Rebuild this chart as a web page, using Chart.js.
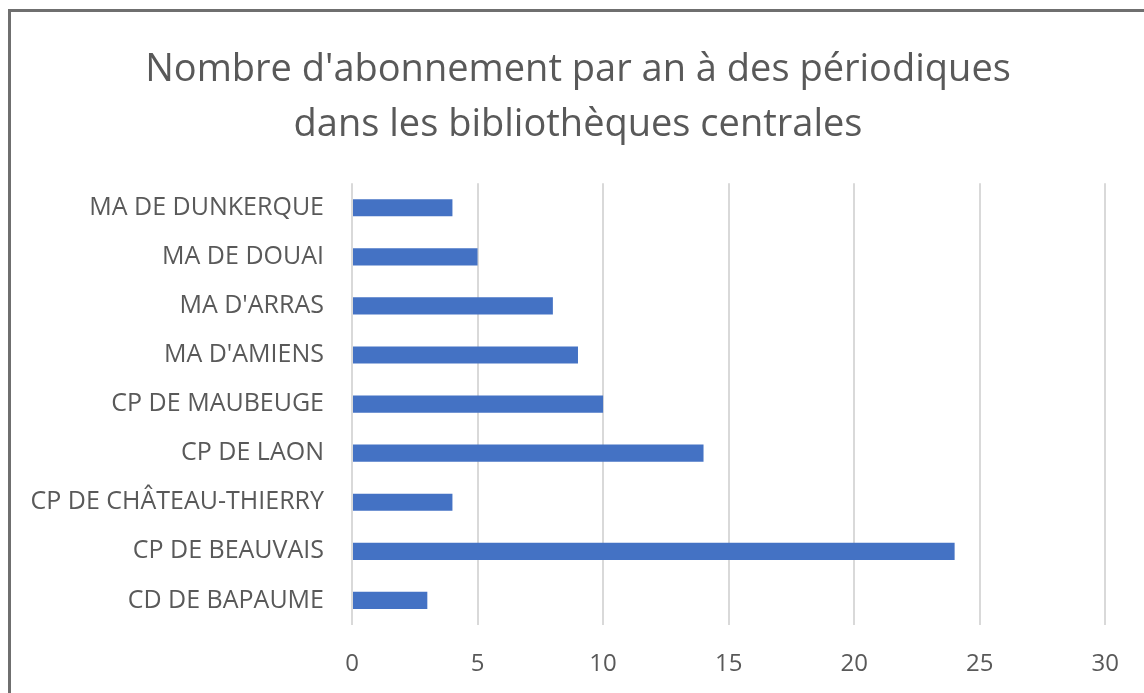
<!DOCTYPE html>
<html>
<head>
<meta charset="utf-8">
<script src="https://cdn.jsdelivr.net/npm/chart.js@4"></script>
<style>
  html, body { margin: 0; padding: 0; background: #fff; overflow: hidden; }
  #frame {
    position: absolute; left: 8px; top: 9px;
    width: 2000px; height: 2000px;
    border: 3px solid #6f6f6f;
  }
  #wrap { position: absolute; left: 0; top: 0; width: 1144px; height: 693px; }
</style>
</head>
<body>
<div id="frame"></div>
<div id="wrap"><canvas id="myChart"></canvas></div>
<script>
// DATA
const libraries = [
  'MA DE DUNKERQUE',
  'MA DE DOUAI',
  "MA D'ARRAS",
  "MA D'AMIENS",
  'CP DE MAUBEUGE',
  'CP DE LAON',
  'CP DE CHÂTEAU-THIERRY',
  'CP DE BEAUVAIS',
  'CD DE BAPAUME',
];
const subscriptions = [4, 5, 8, 9, 10, 14, 4, 24, 3];
const titleLines = [
  "Nombre d'abonnement par an à des périodiques",
  'dans les bibliothèques centrales',
];
const axisMax = 30;
const axisStep = 5;

const textColor = '#595959';
const gridColor = '#d9d9d9';

// the left padding pushes the title centre right, so let the
// category labels spill into it instead of being clipped
const labelRoom = {
  id: 'labelRoom',
  afterLayout(chart) {
    chart.scales.y.left = 0;
  }
};

const config = {
  type: 'bar',
  data: {
    labels: libraries,
    datasets: [{
      data: subscriptions,
      backgroundColor: '#4472c4',
      borderWidth: 0,
      categoryPercentage: 0.5,
      barPercentage: 0.7,
    }]
  },
  options: {
    indexAxis: 'y',
    responsive: true,
    maintainAspectRatio: false,
    animation: false,
    layout: { padding: { left: 50, right: 38, top: 0, bottom: 0 } },
    plugins: {
      legend: { display: false },
      tooltip: { enabled: false },
      title: {
        display: true,
        text: titleLines,
        color: textColor,
        font: { family: 'Open Sans', size: 38, weight: 'normal', lineHeight: 1.45 },
        padding: { top: 43, bottom: 30 },
      },
    },
    scales: {
      x: {
        min: 0,
        max: axisMax,
        ticks: {
          stepSize: axisStep,
          color: textColor,
          font: { family: 'Open Sans', size: 24 },
          padding: 25,
        },
        grid: { color: gridColor, lineWidth: 2, drawTicks: false },
        border: { display: false },
        afterFit: (scale) => { scale.height = 68; },
      },
      y: {
        ticks: {
          color: textColor,
          font: { family: 'Open Sans', size: 25 },
          padding: 28,
        },
        grid: { display: false, drawTicks: false },
        border: { display: false },
        afterFit: (scale) => { scale.width = 302; },
      },
    },
  },
  plugins: [labelRoom],
};

const myChart = new Chart(document.getElementById('myChart'), config);
</script>
</body>
</html>
